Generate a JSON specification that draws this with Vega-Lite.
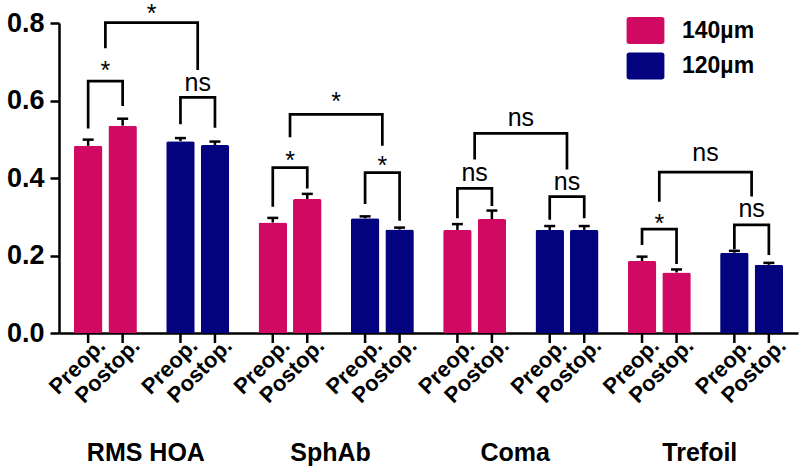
{
  "$schema": "https://vega.github.io/schema/vega-lite/v6.json",
  "width": 739,
  "height": 310,
  "autosize": {"type": "none"},
  "padding": {"left": 59, "top": 23, "right": 2, "bottom": 134},
  "background": "white",
  "config": {"view": {"stroke": null}, "font": "Liberation Sans"},
  "datasets": {
    "bars": [
      {"metric": "RMS HOA", "size": "140µm", "pair": "RMS HOA|140", "time": "Preop.", "mean": 0.483, "upper": 0.499},
      {"metric": "RMS HOA", "size": "140µm", "pair": "RMS HOA|140", "time": "Postop.", "mean": 0.535, "upper": 0.553},
      {"metric": "RMS HOA", "size": "120µm", "pair": "RMS HOA|120", "time": "Preop.", "mean": 0.495, "upper": 0.503},
      {"metric": "RMS HOA", "size": "120µm", "pair": "RMS HOA|120", "time": "Postop.", "mean": 0.485, "upper": 0.494},
      {"metric": "SphAb", "size": "140µm", "pair": "SphAb|140", "time": "Preop.", "mean": 0.285, "upper": 0.297},
      {"metric": "SphAb", "size": "140µm", "pair": "SphAb|140", "time": "Postop.", "mean": 0.346, "upper": 0.359},
      {"metric": "SphAb", "size": "120µm", "pair": "SphAb|120", "time": "Preop.", "mean": 0.296, "upper": 0.301},
      {"metric": "SphAb", "size": "120µm", "pair": "SphAb|120", "time": "Postop.", "mean": 0.267, "upper": 0.272},
      {"metric": "Coma", "size": "140µm", "pair": "Coma|140", "time": "Preop.", "mean": 0.266, "upper": 0.281},
      {"metric": "Coma", "size": "140µm", "pair": "Coma|140", "time": "Postop.", "mean": 0.294, "upper": 0.316},
      {"metric": "Coma", "size": "120µm", "pair": "Coma|120", "time": "Preop.", "mean": 0.266, "upper": 0.276},
      {"metric": "Coma", "size": "120µm", "pair": "Coma|120", "time": "Postop.", "mean": 0.266, "upper": 0.276},
      {"metric": "Trefoil", "size": "140µm", "pair": "Trefoil|140", "time": "Preop.", "mean": 0.186, "upper": 0.197},
      {"metric": "Trefoil", "size": "140µm", "pair": "Trefoil|140", "time": "Postop.", "mean": 0.156, "upper": 0.164},
      {"metric": "Trefoil", "size": "120µm", "pair": "Trefoil|120", "time": "Preop.", "mean": 0.207, "upper": 0.212},
      {"metric": "Trefoil", "size": "120µm", "pair": "Trefoil|120", "time": "Postop.", "mean": 0.176, "upper": 0.181}
    ],
    "inner": [
      {"b": "r140", "pair": "RMS HOA|140", "time": "Preop.", "y": 0.528, "o": 0},
      {"b": "r140", "pair": "RMS HOA|140", "time": "Preop.", "y": 0.650, "o": 1},
      {"b": "r140", "pair": "RMS HOA|140", "time": "Postop.", "y": 0.650, "o": 2},
      {"b": "r140", "pair": "RMS HOA|140", "time": "Postop.", "y": 0.586, "o": 3},
      {"b": "r120", "pair": "RMS HOA|120", "time": "Preop.", "y": 0.539, "o": 0},
      {"b": "r120", "pair": "RMS HOA|120", "time": "Preop.", "y": 0.608, "o": 1},
      {"b": "r120", "pair": "RMS HOA|120", "time": "Postop.", "y": 0.608, "o": 2},
      {"b": "r120", "pair": "RMS HOA|120", "time": "Postop.", "y": 0.530, "o": 3},
      {"b": "s140", "pair": "SphAb|140", "time": "Preop.", "y": 0.326, "o": 0},
      {"b": "s140", "pair": "SphAb|140", "time": "Preop.", "y": 0.427, "o": 1},
      {"b": "s140", "pair": "SphAb|140", "time": "Postop.", "y": 0.427, "o": 2},
      {"b": "s140", "pair": "SphAb|140", "time": "Postop.", "y": 0.373, "o": 3},
      {"b": "s120", "pair": "SphAb|120", "time": "Preop.", "y": 0.333, "o": 0},
      {"b": "s120", "pair": "SphAb|120", "time": "Preop.", "y": 0.414, "o": 1},
      {"b": "s120", "pair": "SphAb|120", "time": "Postop.", "y": 0.414, "o": 2},
      {"b": "s120", "pair": "SphAb|120", "time": "Postop.", "y": 0.290, "o": 3},
      {"b": "c140", "pair": "Coma|140", "time": "Preop.", "y": 0.296, "o": 0},
      {"b": "c140", "pair": "Coma|140", "time": "Preop.", "y": 0.373, "o": 1},
      {"b": "c140", "pair": "Coma|140", "time": "Postop.", "y": 0.373, "o": 2},
      {"b": "c140", "pair": "Coma|140", "time": "Postop.", "y": 0.328, "o": 3},
      {"b": "c120", "pair": "Coma|120", "time": "Preop.", "y": 0.292, "o": 0},
      {"b": "c120", "pair": "Coma|120", "time": "Preop.", "y": 0.352, "o": 1},
      {"b": "c120", "pair": "Coma|120", "time": "Postop.", "y": 0.352, "o": 2},
      {"b": "c120", "pair": "Coma|120", "time": "Postop.", "y": 0.296, "o": 3},
      {"b": "t140", "pair": "Trefoil|140", "time": "Preop.", "y": 0.227, "o": 0},
      {"b": "t140", "pair": "Trefoil|140", "time": "Preop.", "y": 0.268, "o": 1},
      {"b": "t140", "pair": "Trefoil|140", "time": "Postop.", "y": 0.268, "o": 2},
      {"b": "t140", "pair": "Trefoil|140", "time": "Postop.", "y": 0.178, "o": 3},
      {"b": "t120", "pair": "Trefoil|120", "time": "Preop.", "y": 0.216, "o": 0},
      {"b": "t120", "pair": "Trefoil|120", "time": "Preop.", "y": 0.279, "o": 1},
      {"b": "t120", "pair": "Trefoil|120", "time": "Postop.", "y": 0.279, "o": 2},
      {"b": "t120", "pair": "Trefoil|120", "time": "Postop.", "y": 0.201, "o": 3}
    ],
    "outer": [
      {"b": "r", "pair": "RMS HOA|140", "y": 0.735, "o": 0},
      {"b": "r", "pair": "RMS HOA|140", "y": 0.801, "o": 1},
      {"b": "r", "pair": "RMS HOA|120", "y": 0.801, "o": 2},
      {"b": "r", "pair": "RMS HOA|120", "y": 0.679, "o": 3},
      {"b": "s", "pair": "SphAb|140", "y": 0.505, "o": 0},
      {"b": "s", "pair": "SphAb|140", "y": 0.564, "o": 1},
      {"b": "s", "pair": "SphAb|120", "y": 0.564, "o": 2},
      {"b": "s", "pair": "SphAb|120", "y": 0.483, "o": 3},
      {"b": "c", "pair": "Coma|140", "y": 0.448, "o": 0},
      {"b": "c", "pair": "Coma|140", "y": 0.515, "o": 1},
      {"b": "c", "pair": "Coma|120", "y": 0.515, "o": 2},
      {"b": "c", "pair": "Coma|120", "y": 0.422, "o": 3},
      {"b": "t", "pair": "Trefoil|140", "y": 0.339, "o": 0},
      {"b": "t", "pair": "Trefoil|140", "y": 0.415, "o": 1},
      {"b": "t", "pair": "Trefoil|120", "y": 0.415, "o": 2},
      {"b": "t", "pair": "Trefoil|120", "y": 0.352, "o": 3}
    ],
    "innerLabels": [
      {"pair": "RMS HOA|140", "label": "*", "y": 0.656},
      {"pair": "RMS HOA|120", "label": "ns", "y": 0.625},
      {"pair": "SphAb|140", "label": "*", "y": 0.424},
      {"pair": "SphAb|120", "label": "*", "y": 0.411},
      {"pair": "Coma|140", "label": "ns", "y": 0.392},
      {"pair": "Coma|120", "label": "ns", "y": 0.369},
      {"pair": "Trefoil|140", "label": "*", "y": 0.261},
      {"pair": "Trefoil|120", "label": "ns", "y": 0.300}
    ],
    "outerLabels": [
      {"pair": "RMS HOA|140", "metric": "RMS HOA", "label": "*", "y": 0.803},
      {"pair": "SphAb|140", "metric": "SphAb", "label": "*", "y": 0.575},
      {"pair": "Coma|140", "metric": "Coma", "label": "ns", "y": 0.534},
      {"pair": "Trefoil|140", "metric": "Trefoil", "label": "ns", "y": 0.444}
    ]
  },
  "layer": [
    {
      "data": {"name": "bars"},
      "mark": {"type": "bar", "cornerRadiusTopLeft": 2, "cornerRadiusTopRight": 2},
      "encoding": {
        "x": {
          "field": "pair", "type": "nominal",
          "scale": {"domain": ["RMS HOA|140", "RMS HOA|120", "SphAb|140", "SphAb|120", "Coma|140", "Coma|120", "Trefoil|140", "Trefoil|120"], "paddingInner": 0.2526, "paddingOuter": 0.1288},
          "axis": {"title": null, "labels": false, "ticks": false, "domainColor": "black", "domainWidth": 2.5}
        },
        "xOffset": {"field": "time", "type": "nominal", "scale": {"domain": ["Preop.", "Postop."], "paddingInner": 0.174, "paddingOuter": 0.087}},
        "y": {
          "field": "mean", "type": "quantitative",
          "scale": {"domain": [0, 0.8], "nice": false},
          "axis": {"title": null, "values": [0, 0.2, 0.4, 0.6, 0.8], "format": ".1f", "grid": false, "labelFont": "Liberation Sans", "labelFontWeight": "bold", "labelFontSize": 27, "labelColor": "black", "tickColor": "black", "tickSize": 9, "tickWidth": 2.5, "domainColor": "black", "domainWidth": 2.5, "labelPadding": 6}
        },
        "color": {
          "field": "size", "type": "nominal",
          "scale": {"domain": ["140µm", "120µm"], "range": ["#D00A63", "#03037F"]},
          "legend": {"title": null, "orient": "none", "legendX": 573, "legendY": -6, "padding": 0,
            "symbolType": "M-1.2,-1H1.2Q1.4,-1 1.4,-0.8V0.8Q1.4,1 1.2,1H-1.2Q-1.4,1 -1.4,0.8V-0.8Q-1.4,-1 -1.2,-1Z",
            "symbolSize": 729, "symbolStrokeWidth": 0, "symbolOpacity": 1,
            "labelFont": "Liberation Sans", "labelFontSize": 23, "labelFontWeight": "bold", "labelColor": "black", "labelOffset": 23, "rowPadding": 8.5}
        }
      }
    },
    {
      "data": {"name": "bars"},
      "mark": {"type": "rule", "color": "black", "strokeWidth": 2.5},
      "encoding": {
        "x": {"field": "pair", "type": "nominal"},
        "xOffset": {"field": "time", "type": "nominal"},
        "y": {"field": "mean", "type": "quantitative"},
        "y2": {"field": "upper"}
      }
    },
    {
      "data": {"name": "bars"},
      "mark": {"type": "tick", "orient": "horizontal", "color": "black", "size": 11, "thickness": 2.5, "opacity": 1},
      "encoding": {
        "x": {"field": "pair", "type": "nominal"},
        "xOffset": {"field": "time", "type": "nominal"},
        "y": {"field": "upper", "type": "quantitative"}
      }
    },
    {
      "data": {"name": "bars"},
      "mark": {"type": "tick", "orient": "vertical", "color": "black", "size": 10, "thickness": 2.5, "yOffset": 5, "opacity": 1},
      "encoding": {
        "x": {"field": "pair", "type": "nominal"},
        "xOffset": {"field": "time", "type": "nominal"},
        "y": {"datum": 0, "type": "quantitative"}
      }
    },
    {
      "data": {"name": "bars"},
      "mark": {"type": "text", "angle": 315, "align": "right", "baseline": "alphabetic", "dx": 3, "dy": 23, "font": "Liberation Sans", "fontWeight": "bold", "fontSize": 22, "color": "black"},
      "encoding": {
        "x": {"field": "pair", "type": "nominal"},
        "xOffset": {"field": "time", "type": "nominal"},
        "y": {"datum": 0, "type": "quantitative"},
        "text": {"field": "time"}
      }
    },
    {
      "data": {"name": "inner"},
      "mark": {"type": "line", "color": "black", "strokeWidth": 2.7, "strokeJoin": "miter", "strokeCap": "butt"},
      "encoding": {
        "x": {"field": "pair", "type": "nominal"},
        "xOffset": {"field": "time", "type": "nominal"},
        "y": {"field": "y", "type": "quantitative"},
        "detail": {"field": "b"},
        "order": {"field": "o"}
      }
    },
    {
      "data": {"name": "outer"},
      "mark": {"type": "line", "color": "black", "strokeWidth": 2.7, "strokeJoin": "miter", "strokeCap": "butt"},
      "encoding": {
        "x": {"field": "pair", "type": "nominal"},
        "y": {"field": "y", "type": "quantitative"},
        "detail": {"field": "b"},
        "order": {"field": "o"}
      }
    },
    {
      "data": {"name": "innerLabels"},
      "mark": {"type": "text", "align": "center", "baseline": "alphabetic", "font": "Liberation Sans", "fontSize": 25, "color": "black"},
      "encoding": {
        "x": {"field": "pair", "type": "nominal"},
        "y": {"field": "y", "type": "quantitative"},
        "text": {"field": "label"}
      }
    },
    {
      "data": {"name": "outerLabels"},
      "mark": {"type": "text", "align": "center", "baseline": "alphabetic", "dx": 11.7, "font": "Liberation Sans", "fontSize": 25, "color": "black"},
      "encoding": {
        "x": {"field": "pair", "type": "nominal", "bandPosition": 1},
        "y": {"field": "y", "type": "quantitative"},
        "text": {"field": "label"}
      }
    },
    {
      "data": {"name": "outerLabels"},
      "mark": {"type": "text", "align": "center", "baseline": "alphabetic", "dx": 6, "dy": 128, "font": "Liberation Sans", "fontWeight": "bold", "fontSize": 25, "color": "black"},
      "encoding": {
        "x": {"field": "pair", "type": "nominal", "bandPosition": 1},
        "y": {"datum": 0, "type": "quantitative"},
        "text": {"field": "metric"}
      }
    }
  ]
}
